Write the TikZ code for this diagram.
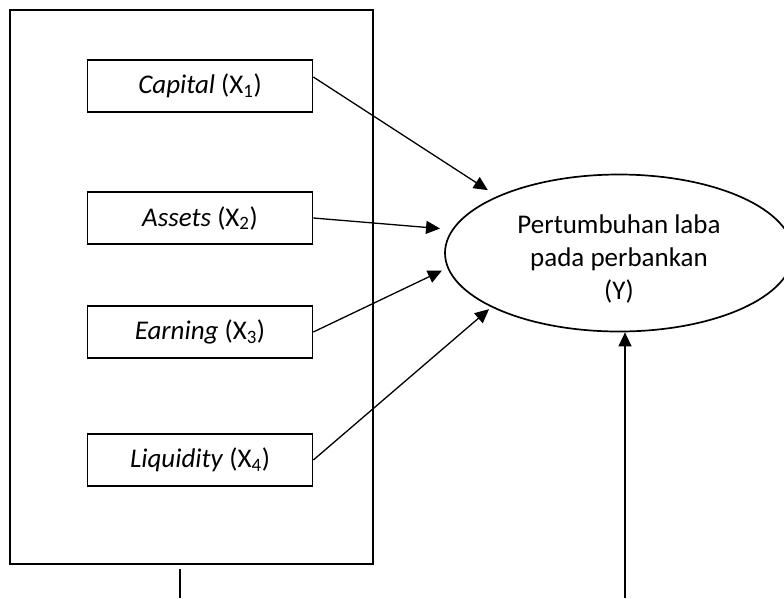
\documentclass[tikz,border=0pt]{standalone}
\usepackage{fontspec}
\setmainfont{Carlito}
\usetikzlibrary{arrows.meta,shapes.geometric}

\tikzset{
	var/.style={draw,line width=1.7pt,minimum width=225pt,minimum height=52pt,inner sep=0pt},
	arr/.style={line width=1.3pt,-{Triangle[length=14pt,width=13pt]}}
}

\begin{document}
\begin{tikzpicture}[x=1pt,y=-1pt,font=\fontsize{27}{33}\selectfont]
		\useasboundingbox (0,0) rectangle (784,598);
		\clip (0,0) rectangle (784,598);
		
		\node[draw,line width=2.5pt,minimum width=363pt,minimum height=554pt,inner sep=0pt] (frame) at (191.5,287) {};
		\node[var] (cap) at (200,86) {\textit{Capital} (X\textsubscript{1})};
		\node[var] (ast) at (200,218) {\textit{Assets} (X\textsubscript{2})};
		\node[var] (ern) at (200,332) {\textit{Earning} (X\textsubscript{3})};
		\node[var] (liq) at (200,460) {\textit{Liquidity} (X\textsubscript{4})};
		\node[draw,ellipse,line width=1.7pt,minimum width=348pt,minimum height=157pt,inner sep=0pt,
			label={[align=center,yshift=-6pt]center:Pertumbuhan laba\\pada perbankan\\(Y)}] (y) at (619,253) {};
		\coordinate (stub) at (180,598);
		\coordinate (base) at (625,598);
		
		\draw[arr,shorten >=11pt] ([yshift=9pt]cap.east) -- (y.155);
		\draw[arr,shorten >=12pt] (ast.east) -- (y.172);
		\draw[arr,shorten >=6pt] (ern.east) -- (y.185);
		\draw[arr,shorten >=3pt] (liq.east) -- (y.203);
		\draw[line width=1.3pt] (frame.south -| stub) ++(0,4) -- (stub);
		\draw[arr] (base) -- (base |- y.south);
\end{tikzpicture}
\end{document}
